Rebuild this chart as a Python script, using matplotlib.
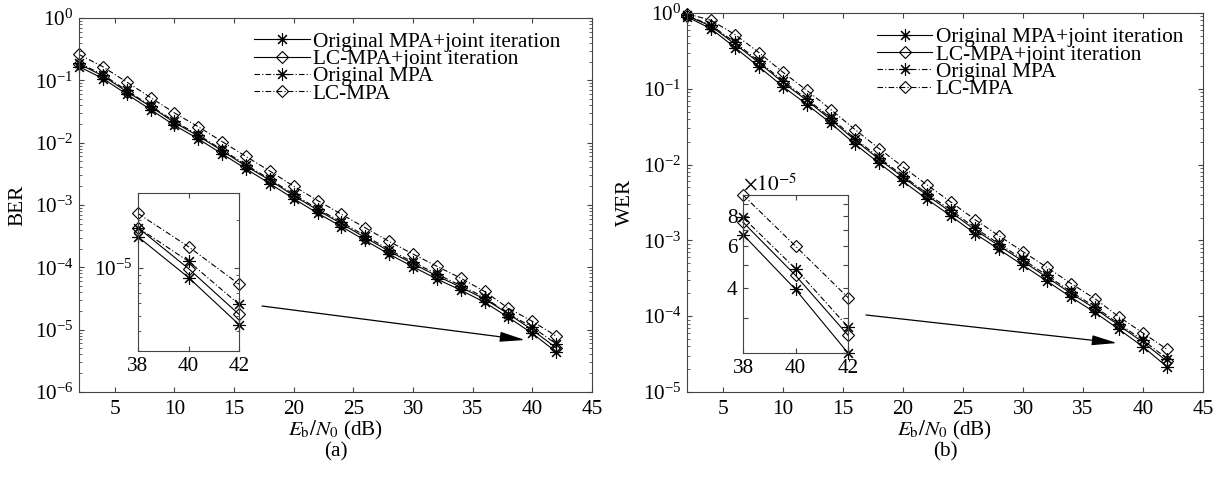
"""
BER / WER vs Eb/N0 for original MPA and LC-MPA, with and without joint iteration.
Writes out.png
"""
import numpy as np
import matplotlib
matplotlib.use("Agg")
import matplotlib.pyplot as plt
from matplotlib.patches import FancyArrowPatch
from matplotlib.ticker import NullFormatter, LogLocator, FixedLocator

# ---- data ------------------------------------------------------------------
EBN0 = [2, 4, 6, 8, 10, 12, 14, 16, 18, 20, 22, 24, 26, 28, 30, 32, 34, 36, 38, 40, 42]
LABELS = ["Original MPA+joint iteration", "LC-MPA+joint iteration", "Original MPA", "LC-MPA"]

BER_MPA_JI = [0.166, 0.107, 0.060, 0.034, 0.019, 0.0115, 0.0066, 0.0038, 0.0022, 1.26e-3, 7.4e-4,
              4.5e-4, 2.7e-4, 1.62e-4, 1.02e-4, 6.5e-5, 4.3e-5, 2.75e-5, 1.57e-5, 8.7e-6, 4.4e-6]
BER_LC_JI = [0.183, 0.118, 0.066, 0.038, 0.021, 0.0128, 0.0074, 0.0042, 0.0025, 1.41e-3, 8.3e-4,
             5.0e-4, 3.0e-4, 1.81e-4, 1.14e-4, 7.3e-5, 4.8e-5, 3.1e-5, 1.79e-5, 9.9e-6, 5.1e-6]
BER_MPA = [0.19, 0.123, 0.069, 0.039, 0.022, 0.0133, 0.0077, 0.0044, 0.0026, 1.48e-3, 8.7e-4,
           5.3e-4, 3.2e-4, 1.92e-4, 1.21e-4, 7.8e-5, 5.1e-5, 3.3e-5, 1.79e-5, 1.10e-5, 5.9e-6]
BER_LC = [0.26, 0.165, 0.094, 0.053, 0.030, 0.018, 0.0104, 0.0060, 0.0035, 2.0e-3, 1.18e-3,
          7.1e-4, 4.3e-4, 2.6e-4, 1.63e-4, 1.04e-4, 6.7e-5, 4.1e-5, 2.2e-5, 1.36e-5, 7.9e-6]

WER_MPA_JI = [0.89, 0.62, 0.35, 0.195, 0.107, 0.062, 0.035, 0.0186, 0.0105, 6.0e-3, 3.5e-3,
              2.1e-3, 1.23e-3, 7.6e-4, 4.7e-4, 2.9e-4, 1.78e-4, 1.12e-4, 6.7e-5, 3.96e-5, 2.15e-5]
WER_LC_JI = [0.92, 0.67, 0.39, 0.22, 0.121, 0.07, 0.039, 0.021, 0.0118, 6.8e-3, 3.95e-3,
             2.35e-3, 1.38e-3, 8.5e-4, 5.3e-4, 3.25e-4, 2.0e-4, 1.26e-4, 7.55e-5, 4.53e-5, 2.55e-5]
WER_MPA = [0.93, 0.69, 0.41, 0.23, 0.127, 0.073, 0.041, 0.022, 0.0124, 7.1e-3, 4.15e-3,
           2.5e-3, 1.46e-3, 9.0e-4, 5.6e-4, 3.45e-4, 2.1e-4, 1.33e-4, 7.9e-5, 4.83e-5, 2.76e-5]
WER_LC = [0.98, 0.8, 0.52, 0.3, 0.165, 0.095, 0.053, 0.029, 0.0163, 9.3e-3, 5.4e-3,
          3.2e-3, 1.88e-3, 1.15e-3, 7.1e-4, 4.4e-4, 2.7e-4, 1.7e-4, 9.8e-5, 6.0e-5, 3.66e-5]

# ---- style -----------------------------------------------------------------
INK, SPINE = "#000000", "#444444"
FS = 15.3
STAR = (8, 2, 0)
DASHDOT = (0, (5, 2, 1, 2))
STYLES = [dict(ls="-", marker=STAR, ms=9, mfc="none"),
          dict(ls="-", marker="D", ms=6.5, mfc="none"),
          dict(ls=DASHDOT, marker=STAR, ms=9, mfc="none"),
          dict(ls=DASHDOT, marker="D", ms=6.5, mfc="none")]

plt.rcParams.update({
    "font.family": "Liberation Serif", "mathtext.fontset": "stix", "font.size": FS,
    "axes.linewidth": 0.8, "axes.edgecolor": SPINE,
    "xtick.direction": "in", "ytick.direction": "in", "xtick.top": True, "ytick.right": True,
    "xtick.major.size": 3.5, "ytick.major.size": 3.5, "xtick.minor.size": 2, "ytick.minor.size": 2,
    "xtick.color": SPINE, "ytick.color": SPINE, "xtick.labelcolor": INK, "ytick.labelcolor": INK,
})

W, H = 1220, 484


def px_rect(x0, y0, x1, y1):
    # pixel box (top-left origin) -> figure fraction rect
    return [x0 / W, 1 - y1 / H, (x1 - x0) / W, (y1 - y0) / H]


def draw_curves(ax, series, labels=None, xr=None):
    x = np.array(EBN0)
    keep = np.ones(len(x), bool) if xr is None else (x >= xr[0]) & (x <= xr[1])
    for i, (y, st) in enumerate(zip(series, STYLES)):
        ax.plot(x[keep], np.array(y)[keep], color=INK, lw=0.8, mew=0.8, clip_on=False,
                label=labels[i] if labels else None, **st)


def main_axes(fig, rect, series, ylim, ylabel, leg_anchor, tag):
    ax = fig.add_axes(rect)
    draw_curves(ax, series, LABELS)
    ax.set_yscale("log")
    ax.set_xlim(2, 45)
    ax.set_ylim(*ylim)
    ax.set_xticks(range(5, 50, 5))
    ax.yaxis.set_major_locator(LogLocator(base=10, numticks=12))
    ax.yaxis.set_minor_locator(LogLocator(base=10, subs=np.arange(2, 10), numticks=12))
    ax.yaxis.set_minor_formatter(NullFormatter())
    ax.tick_params(axis="y", labelsize=FS, pad=4)
    ax.tick_params(axis="x", labelsize=FS, pad=6)
    ax.set_xlabel(r"$E_\mathrm{b}/N_0$ (dB)", fontsize=FS, labelpad=0)
    ax.set_ylabel(ylabel, fontsize=FS)
    ax.yaxis.set_label_coords(-0.1, 0.5)
    ax.legend(loc="upper right", bbox_to_anchor=leg_anchor, frameon=False, fontsize=FS,
              handlelength=2.6, handletextpad=0.15, labelspacing=-0.12,
              borderaxespad=0, borderpad=0)
    fig.text(rect[0] + rect[2] / 2, 1 - 452 / H, tag, ha="center", va="center", fontsize=FS)
    return ax


def inset_axes(fig, rect, series, ylim):
    ax = fig.add_axes(rect)
    draw_curves(ax, series, xr=(38, 42))
    ax.set_yscale("log")
    ax.set_xlim(38, 42)
    ax.set_ylim(*ylim)
    ax.set_xticks([38, 40, 42])
    ax.tick_params(axis="both", labelsize=FS, pad=4)
    return ax


fig = plt.figure(figsize=(12.2, 4.84), dpi=100)

ber = [BER_MPA_JI, BER_LC_JI, BER_MPA, BER_LC]
wer = [WER_MPA_JI, WER_LC_JI, WER_MPA, WER_LC]

main_axes(fig, px_rect(79, 18, 592, 392), ber, (1e-6, 1), "BER", (0.938, 0.963), "(a)")
main_axes(fig, px_rect(687, 13, 1203, 392), wer, (1e-5, 1), "WER", (0.961, 0.962), "(b)")

# ---- insets ----------------------------------------------------------------
a = inset_axes(fig, px_rect(138, 193, 239, 351), ber, (3.0e-6, 2.96e-5))
a.yaxis.set_major_locator(FixedLocator([1e-5]))
a.yaxis.set_minor_locator(LogLocator(base=10, subs=np.arange(2, 10), numticks=12))
a.yaxis.set_minor_formatter(NullFormatter())

b = inset_axes(fig, px_rect(743, 195, 848, 353), wer, (2.15e-5, 9.8e-5))
b.yaxis.set_major_locator(FixedLocator([3e-5, 4e-5, 5e-5, 6e-5, 7e-5, 8e-5, 9e-5]))
b.set_yticklabels(["", "4", "", "6", "", "8", ""])
b.yaxis.set_minor_locator(FixedLocator([]))
b.text(0.0, 1.0, r"$\times10^{-5}$", transform=b.transAxes, ha="left", va="bottom", fontsize=FS)

# ---- arrows from inset to the zoomed region ---------------------------------
for p0, p1 in [((262, 306), (525, 340)), ((866, 315), (1117, 343))]:
    fig.add_artist(FancyArrowPatch((p0[0] / W, 1 - p0[1] / H), (p1[0] / W, 1 - p1[1] / H),
                                   transform=fig.transFigure, color=INK, lw=0.9,
                                   arrowstyle="-|>,head_length=1.1,head_width=0.22",
                                   mutation_scale=14, shrinkA=0, shrinkB=0))

fig.savefig("out.png", dpi=100)
